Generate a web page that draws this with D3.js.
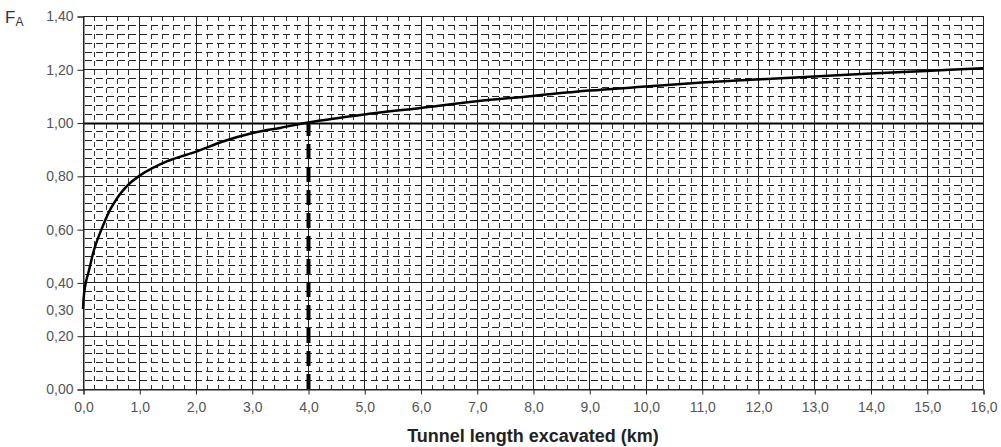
<!DOCTYPE html>
<html>
<head>
<meta charset="utf-8">
<script src="https://cdn.jsdelivr.net/npm/d3@7"></script>
<style>
  body { margin: 0; background: #fff; }
  text { font-family: "Liberation Sans", Arial, sans-serif; }
</style>
</head>
<body>
<div id="wrapper"></div>
<script>
// tunnel length (km) and F_A
const lengthKm = [0, 0.02, 0.05, 0.1, 0.2, 0.33, 0.5, 0.75, 1, 1.5, 2, 2.5, 3, 3.5, 4,
  5, 6, 7, 8, 9, 10, 11, 12, 13, 14, 15, 16]
const factorA = [0.30, 0.36, 0.40, 0.44, 0.525, 0.60, 0.68, 0.755, 0.80, 0.855, 0.89, 0.93, 0.96, 0.98, 1.00,
  1.03, 1.055, 1.08, 1.10, 1.12, 1.135, 1.15, 1.162, 1.173, 1.184, 1.194, 1.204]

const xTicks = d3.range(0, 17, 1)
const yTicks = [0, 0.2, 0.3, 0.4, 0.6, 0.8, 1.0, 1.2, 1.4]
const yGridMajor = [0, 0.2, 0.4, 0.6, 0.8, 1.0, 1.2, 1.4]
const referenceLength = 4
const referenceFactor = 1.0

const data = lengthKm.map((d, i) => ({ x: d, y: factorA[i] }))

const dimensions = {
  width: 1001,
  height: 447,
  margin: { top: 16, right: 18, bottom: 58, left: 83 }
}
dimensions.boundedWidth = dimensions.width - dimensions.margin.left - dimensions.margin.right
dimensions.boundedHeight = dimensions.height - dimensions.margin.top - dimensions.margin.bottom

const svg = d3.select("#wrapper").append("svg")
    .attr("width", dimensions.width)
    .attr("height", dimensions.height)

const bounds = svg.append("g")
    .attr("transform", `translate(${dimensions.margin.left},${dimensions.margin.top})`)

const xScale = d3.scaleLinear().domain([0, 16]).range([0, dimensions.boundedWidth])
const yScale = d3.scaleLinear().domain([0, 1.4]).range([dimensions.boundedHeight, 0])

const comma = v => d3.format(".1f")(v).replace(".", ",")
const comma2 = v => d3.format(".2f")(v).replace(".", ",")

// minor grid (dashed, like the printed graph paper)
const xMinor = d3.range(0, 16.001, 0.2).filter(v => Math.abs(v - Math.round(v)) > 1e-6)
const yMinor = d3.range(0, 1.4001, 0.2 / 6).filter(v => Math.abs(v * 5 - Math.round(v * 5)) > 1e-6)

bounds.append("g").selectAll("line")
  .data(yMinor)
  .join("line")
    .attr("x1", 0)
    .attr("x2", dimensions.boundedWidth)
    .attr("y1", d => Math.round(yScale(d)) + 0.5)
    .attr("y2", d => Math.round(yScale(d)) + 0.5)
    .attr("stroke", "#222")
    .attr("stroke-dasharray", "7 4")
    .attr("stroke-dashoffset", -2)

bounds.append("g").selectAll("line")
  .data(xMinor)
  .join("line")
    .attr("x1", d => Math.round(xScale(d)) + 0.5)
    .attr("x2", d => Math.round(xScale(d)) + 0.5)
    .attr("y1", 0)
    .attr("y2", dimensions.boundedHeight)
    .attr("stroke", "#333")
    .attr("stroke-dasharray", "5 4")

// major grid
bounds.append("g").selectAll("line")
  .data(yGridMajor)
  .join("line")
    .attr("x1", 0)
    .attr("x2", dimensions.boundedWidth)
    .attr("y1", d => Math.round(yScale(d)) + 0.5)
    .attr("y2", d => Math.round(yScale(d)) + 0.5)
    .attr("stroke", d => d === referenceFactor ? "#000" : "#222")
    .attr("stroke-width", d => d === referenceFactor ? 1.8 : 1)

bounds.append("g").selectAll("line")
  .data(xTicks)
  .join("line")
    .attr("x1", d => Math.round(xScale(d)) + 0.5)
    .attr("x2", d => Math.round(xScale(d)) + 0.5)
    .attr("y1", 0)
    .attr("y2", dimensions.boundedHeight)
    .attr("stroke", "#222")

// frame
bounds.append("rect")
    .attr("x", 0.5)
    .attr("y", 0.5)
    .attr("width", dimensions.boundedWidth)
    .attr("height", dimensions.boundedHeight)
    .attr("fill", "none")
    .attr("stroke", "#222")

// axes
const xAxis = bounds.append("g")
    .attr("transform", `translate(0.5,${dimensions.boundedHeight + 0.5})`)
    .call(d3.axisBottom(xScale).tickValues(xTicks).tickFormat(comma).tickSize(5).tickPadding(8))
xAxis.select(".domain").attr("stroke", "#222")
xAxis.selectAll(".tick line").attr("stroke", "#222")
xAxis.selectAll("text")
    .attr("fill", "#555")
    .style("font-size", "14px")

const yAxis = bounds.append("g")
    .attr("transform", "translate(0.5,0.5)")
    .call(d3.axisLeft(yScale).tickValues(yTicks).tickFormat(comma2).tickSize(6).tickPadding(4))
yAxis.select(".domain").attr("stroke", "#222")
yAxis.selectAll(".tick line")
    .attr("stroke", d => d === 0.3 ? "none" : "#222")
yAxis.selectAll("text")
    .attr("fill", "#555")
    .style("font-size", "14px")

// reference dashed line at 4 km
bounds.append("line")
    .attr("x1", xScale(referenceLength) + 0.5)
    .attr("x2", xScale(referenceLength) + 0.5)
    .attr("y1", yScale(0))
    .attr("y2", yScale(referenceFactor))
    .attr("stroke", "#000")
    .attr("stroke-width", 4)
    .attr("stroke-dasharray", "15 8")

// curve
const line = d3.line()
    .x(d => xScale(d.x))
    .y(d => yScale(d.y))
    .curve(d3.curveCatmullRom.alpha(0.5))

bounds.append("path")
    .datum(data)
    .attr("d", line)
    .attr("fill", "none")
    .attr("stroke", "#000")
    .attr("stroke-width", 2.5)

// labels
const fLabel = svg.append("text")
    .attr("x", 5)
    .attr("y", 23)
    .attr("fill", "#333")
    .style("font-size", "17px")
fLabel.append("tspan").text("F")
fLabel.append("tspan")
    .attr("dy", 3)
    .style("font-size", "12px")
    .text("A")

svg.append("text")
    .attr("x", dimensions.margin.left + dimensions.boundedWidth / 2)
    .attr("y", 442)
    .attr("text-anchor", "middle")
    .attr("fill", "#222")
    .style("font-size", "18px")
    .style("font-weight", "bold")
    .text("Tunnel length excavated (km)")
</script>
</body>
</html>
